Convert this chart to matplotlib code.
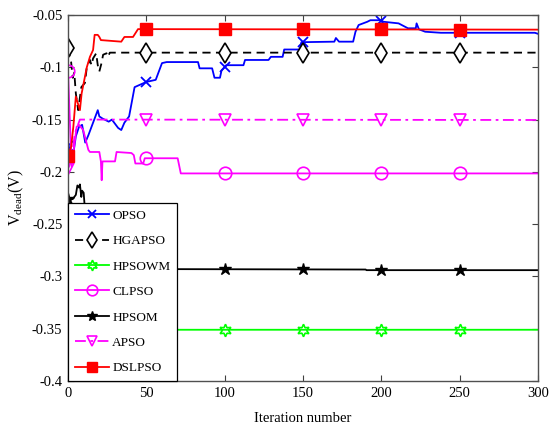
import numpy as np
import matplotlib
matplotlib.use("Agg")
import matplotlib.pyplot as plt
from matplotlib.lines import Line2D

plt.rcParams['font.family'] = ['Liberation Serif', 'DejaVu Serif']
plt.rcParams['mathtext.fontset'] = 'custom'
plt.rcParams['mathtext.rm'] = 'Liberation Serif'

# ---------------- data (iteration, value) ----------------
opso_x = [0, 1, 3, 5, 7, 9, 11, 13, 15, 19, 20, 22, 26, 28, 32, 34, 36, 39, 41, 42.5,
          50, 56, 58, 60, 63, 83, 84, 92, 93.5, 97, 98, 101, 112, 113, 128, 129.5, 137,
          138, 148, 149, 170, 171, 173, 182, 183.5, 185.5, 191, 193, 199.5, 201.5, 211,
          217, 222, 222.5, 224, 228, 238, 298, 300]
opso_y = [-0.175, -0.180, -0.187, -0.166, -0.157, -0.155, -0.172, -0.165, -0.157, -0.141,
          -0.147, -0.149, -0.152, -0.150, -0.158, -0.160, -0.153, -0.147, -0.131, -0.119,
          -0.114, -0.112, -0.104, -0.096, -0.095, -0.095, -0.101, -0.101, -0.110, -0.110,
          -0.103, -0.098, -0.098, -0.093, -0.093, -0.090, -0.090, -0.083, -0.083, -0.0760,
          -0.0755, -0.072, -0.0755, -0.0755, -0.066, -0.0596, -0.0565, -0.055, -0.055,
          -0.0565, -0.058, -0.0627, -0.0627, -0.058, -0.0637, -0.066, -0.067, -0.067, -0.068]

hgapso_x = [0, 2, 3, 4, 5, 6.5, 8.5, 10.8, 12, 14, 15, 16, 18, 19, 20, 21.4, 22.4, 24.6,
            25.5, 26.7, 300]
hgapso_y = [-0.082, -0.095, -0.110, -0.105, -0.125, -0.141, -0.119, -0.115, -0.100, -0.093,
            -0.098, -0.0915, -0.0866, -0.098, -0.104, -0.096, -0.088, -0.0866, -0.090,
            -0.086, -0.086]

hpsowm_x = [0, 3, 10, 300]
hpsowm_y = [-0.372, -0.360, -0.351, -0.351]

clpso_x = [0, 2.3, 4, 5.5, 7, 9.7, 13, 14, 20, 21, 21.5, 22, 30, 31, 40.5, 42, 43, 48, 49,
           70, 72, 300]
clpso_y = [-0.104, -0.195, -0.175, -0.157, -0.155, -0.160, -0.179, -0.181, -0.181, -0.190,
           -0.208, -0.190, -0.190, -0.181, -0.182, -0.184, -0.192, -0.192, -0.187, -0.187,
           -0.2015, -0.2015]

hpsom_x = [0, 3, 5, 6, 7, 7.6, 8.5, 9, 10, 11, 20, 40, 60, 190, 190.5, 300]
hpsom_y = [-0.226, -0.226, -0.222, -0.213, -0.215, -0.212, -0.224, -0.218, -0.220, -0.240,
           -0.265, -0.285, -0.293, -0.2934, -0.294, -0.294]

apso_x = [0, 2, 4.4, 7.6, 300]
apso_y = [-0.197, -0.190, -0.163, -0.150, -0.1504]

dslpso_x = [0, 2, 3.4, 5, 7.6, 8.7, 12, 14, 16, 17, 19, 20, 21, 34, 36, 41.5, 44.7, 300]
dslpso_y = [-0.185, -0.176, -0.157, -0.128, -0.141, -0.125, -0.100, -0.090, -0.0835, -0.069,
            -0.069, -0.071, -0.074, -0.0755, -0.071, -0.071, -0.0635, -0.064]

marker_iters = [0, 50, 100, 150, 200, 250]
names = ['OPSO', 'HGAPSO', 'HPSOWM', 'CLPSO', 'HPSOM', 'APSO', 'DSLPSO']
x_ticks = [0, 50, 100, 150, 200, 250, 300]
y_ticks = [-0.4, -0.35, -0.3, -0.25, -0.2, -0.15, -0.1, -0.05]
y_ticklabels = ['-0.4', '-0.35', '-0.3', '-0.25', '-0.2', '-0.15', '-0.1', '-0.05']

# ---------------- styles ----------------
star6 = (6, 1, 0)
styles = [
    dict(color='#0000ff', ls='-', marker='x', mfc='none', ms=7, mew=1.3),
    dict(color='black', ls=(0, (4.5, 3)), marker='d', mfc='white', ms=10, mew=1.2),
    dict(color='#00ff00', ls='-', marker=star6, mfc='none', ms=9, mew=1.2),
    dict(color='#ff00ff', ls='-', marker='o', mfc='none', ms=9, mew=1.2),
    dict(color='black', ls='-', marker='*', mfc='black', ms=9, mew=1.0),
    dict(color='#ff00ff', ls=(0, (6, 2.5, 1.5, 2.5)), marker='v', mfc='none', ms=9, mew=1.2),
    dict(color='#ff0000', ls='-', marker='s', mfc='#ff0000', ms=9, mew=1.0),
]
series = [(opso_x, opso_y), (hgapso_x, hgapso_y), (hpsowm_x, hpsowm_y), (clpso_x, clpso_y),
          (hpsom_x, hpsom_y), (apso_x, apso_y), (dslpso_x, dslpso_y)]

fig = plt.figure(figsize=(5.49, 4.34), dpi=100)
ax = fig.add_axes([68 / 549, 1 - 381 / 434, (538 - 68) / 549, (381 - 15) / 434])

handles = []
lw = 1.3
for (xs, ys), st, name in zip(series, styles, names):
    ax.plot(xs, ys, color=st['color'], ls=st['ls'], lw=lw)
    my = np.interp(marker_iters, xs, ys)
    ax.plot(marker_iters, my, ls='none', marker=st['marker'], color=st['color'],
            mfc=st['mfc'], mec=st['color'], ms=st['ms'], mew=st['mew'])
    handles.append(Line2D([], [], color=st['color'], ls=st['ls'], lw=lw, marker=st['marker'],
                          mfc=st['mfc'], mec=st['color'], ms=st['ms'] * 0.85, mew=st['mew']))

ax.set_xlim(0, 300)
ax.set_ylim(-0.4, -0.05)
ax.set_xticks(x_ticks)
ax.set_xticklabels([str(t) for t in x_ticks])
ax.set_yticks(y_ticks)
ax.set_yticklabels(y_ticklabels)
ax.tick_params(direction='in', top=True, right=True, length=4, width=0.8,
               labelsize=10.5, color='#404040', pad=4)
for sp in ax.spines.values():
    sp.set_color('#505050')
    sp.set_linewidth(1.0)

ax.set_xlabel('Iteration number', fontsize=10.5, labelpad=9)
ax.set_ylabel(r'$\mathregular{V_{dead}}$(V)', fontsize=11.5, labelpad=4)

leg = ax.legend(handles, names, loc='lower left', bbox_to_anchor=(0, 0), borderaxespad=0,
                fontsize=9.5, numpoints=1, handlelength=2.6, handletextpad=0.25,
                labelspacing=1.0, borderpad=0.5, fancybox=False, framealpha=1,
                edgecolor='black')
leg.get_frame().set_linewidth(0.9)

fig.savefig('out.png', dpi=100)
